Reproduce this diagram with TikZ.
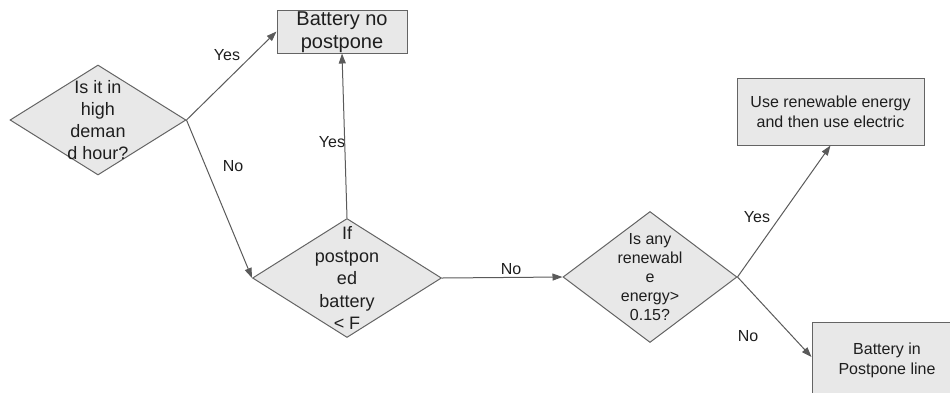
\documentclass[tikz,border=0pt]{standalone}
\usepackage{fontspec}
\setmainfont{Liberation Sans}
\usepackage{tikz}
\usetikzlibrary{shapes.geometric, arrows.meta, positioning}
\definecolor{boxfill}{RGB}{232,232,232}
\definecolor{boxline}{RGB}{100,100,100}
\definecolor{arrline}{RGB}{90,90,90}
\definecolor{txtdark}{RGB}{30,30,30}
\tikzset{
  decision/.style={diamond, draw=boxline, fill=boxfill, inner sep=0pt,
    line width=1pt},
  outbox/.style={rectangle, draw=boxline, fill=boxfill, inner sep=0pt,
    line width=1pt},
  txt/.style={align=center, text=txtdark, inner sep=0pt},
  arrow/.style={-{Triangle[length=10pt, width=7pt]}, line width=1pt, color=arrline},
  lbl/.style={text=txtdark, inner sep=0pt, font=\fontsize{16}{19}\selectfont}
}

\begin{document}
\begin{tikzpicture}[x=1pt, y=-1pt]
  \useasboundingbox (0,0) rectangle (950,392);
  \clip (0,0) rectangle (950,392);
  % decisions
  \node[decision, minimum width=176pt, minimum height=110pt,
    label={[txt, font=\fontsize{18}{22}\selectfont]center:Is it in\\high\\deman\\d hour?}]
    (d1) at (98,120) {};
  \node[decision, minimum width=189pt, minimum height=119pt,
    label={[txt, font=\fontsize{18}{22.5}\selectfont]center:If\\postpon\\ed\\battery\\< F}]
    (d2) at (347,278) {};
  \node[decision, minimum width=174pt, minimum height=131pt,
    label={[txt, font=\fontsize{16}{19}\selectfont]center:Is any\\renewabl\\e\\energy>\\0.15?}]
    (d3) at (650,277) {};
  % outcomes
  \node[outbox, minimum width=130pt, minimum height=43pt,
    label={[txt, font=\fontsize{20}{23}\selectfont, yshift=-1pt]center:Battery no\\postpone}]
    (b1) at (342,31.5) {};
  \node[outbox, minimum width=187pt, minimum height=67pt,
    label={[txt, font=\fontsize{16}{20}\selectfont]center:Use renewable energy\\and then use electric}]
    (b2) at (830.5,111.5) {};
  \node[outbox, minimum width=170pt, minimum height=76pt,
    label={[txt, font=\fontsize{16}{20}\selectfont, xshift=-10pt]center:Battery in\\Postpone line}]
    (b3) at (897,360) {};
  % connectors
  \draw[arrow] (d1.east) -- (b1.west);
  \draw[arrow] (d1.east) -- (d2.west);
  \draw[arrow] (d2.north) -- (b1.south);
  \draw[arrow] (d2.east) -- (d3.west);
  \draw[arrow] (d3.east) -- (b2.south);
  \draw[arrow] (d3.east) -- ([yshift=3pt]b3.west);
  % labels
  \node[lbl] (l1) at (227,55) {Yes};
  \node[lbl] (l2) at (233,166) {No};
  \node[lbl] (l3) at (332,142) {Yes};
  \node[lbl] (l4) at (511,269) {No};
  \node[lbl] (l5) at (757,217) {Yes};
  \node[lbl] (l6) at (748,336) {No};
\end{tikzpicture}
\end{document}
